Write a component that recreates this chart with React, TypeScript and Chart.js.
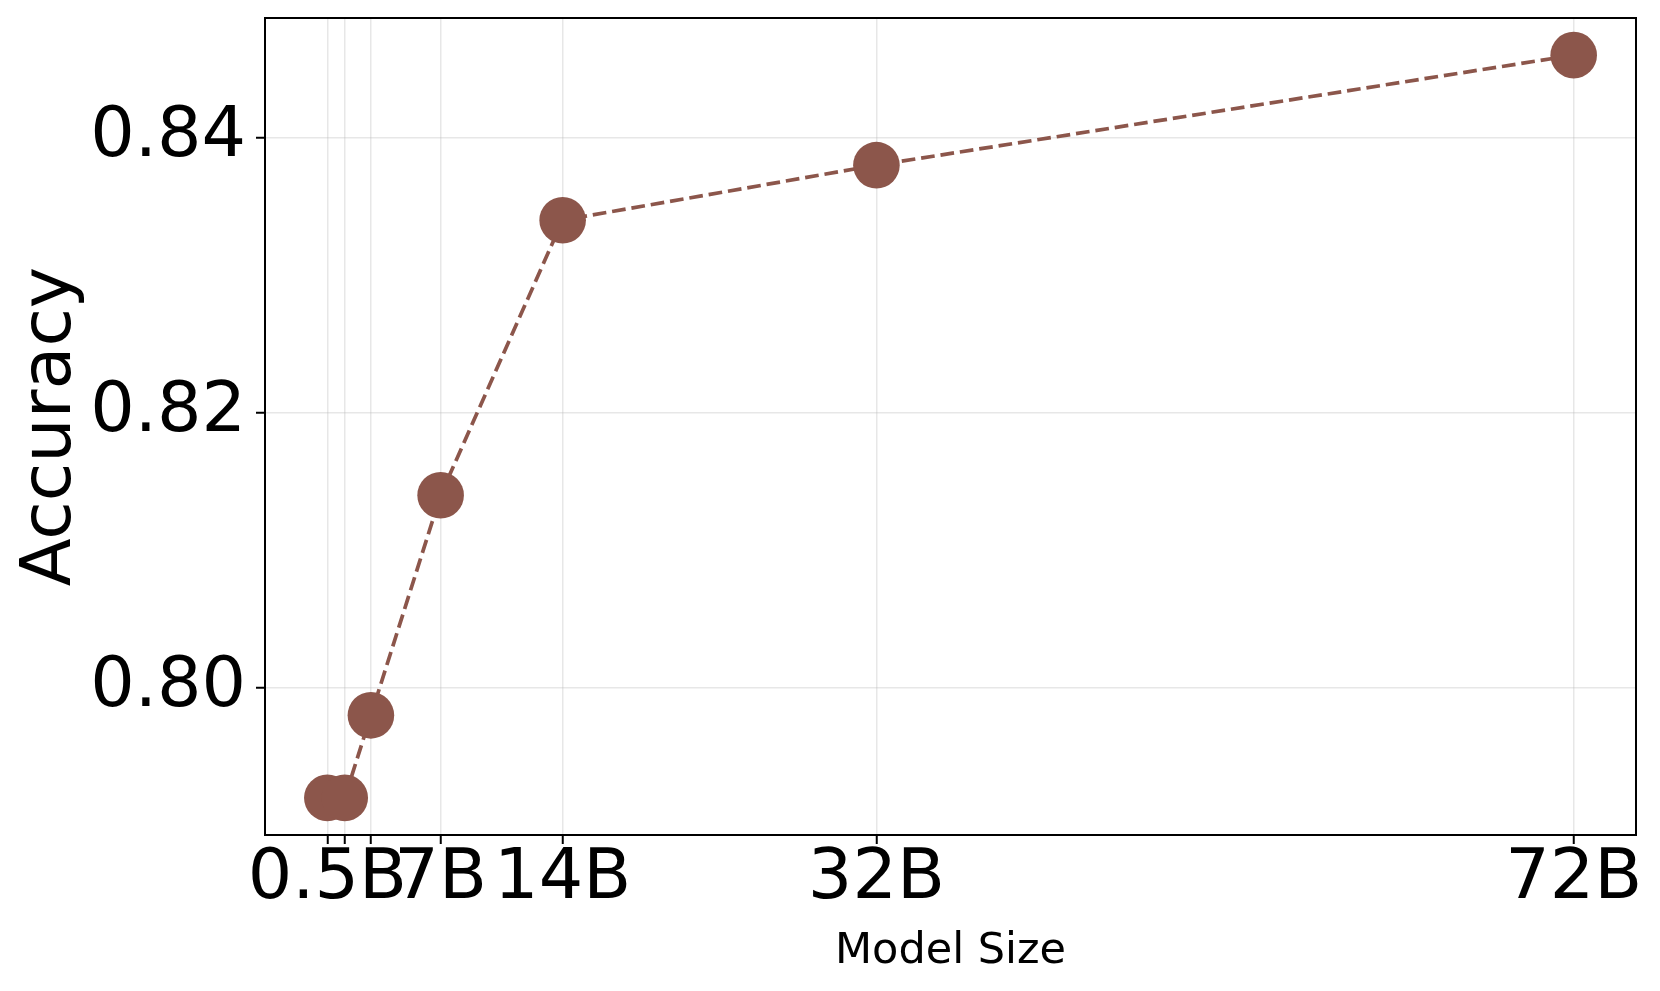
import React, { useEffect, useRef } from "react";
import { Chart, registerables } from "chart.js";

Chart.register(...registerables);

// ---- data ----
const modelSizes = [0.5, 1.5, 3, 7, 14, 32, 72];
const accuracy = [0.792, 0.792, 0.798, 0.814, 0.834, 0.838, 0.846];
const xTickValues = [0.5, 1.5, 3, 7, 14, 32, 72];
const xTickLabels = ["0.5B", "", "", "7B", "14B", "32B", "72B"];
const yTickValues = [0.8, 0.82, 0.84];
const xAxisTitle = "Model Size";
const yAxisTitle = "Accuracy";

const BROWN = "#8c564b";
const FONT = "'DejaVu Sans', sans-serif";

function marginRange(vals: number[], frac = 0.05) {
  const lo = Math.min(...vals);
  const hi = Math.max(...vals);
  const pad = (hi - lo) * frac;
  return { min: lo - pad, max: hi + pad };
}

const framePlugin = {
  id: "frame",
  afterDraw(chart: any) {
    const { ctx, chartArea } = chart;
    ctx.save();
    ctx.strokeStyle = "#000";
    ctx.lineWidth = 2;
    ctx.strokeRect(
      chartArea.left,
      chartArea.top,
      chartArea.right - chartArea.left,
      chartArea.bottom - chartArea.top
    );
    ctx.restore();
  },
};

export default function App() {
  const ref = useRef<HTMLCanvasElement | null>(null);

  useEffect(() => {
    if (!ref.current) return;
    const xr = marginRange(modelSizes);
    const yr = marginRange(accuracy);
    const chart = new Chart(ref.current, {
      type: "line",
      data: {
        datasets: [
          {
            data: modelSizes.map((x, i) => ({ x, y: accuracy[i] })),
            borderColor: BROWN,
            backgroundColor: BROWN,
            borderWidth: 3.7,
            borderDash: [13.7, 5.9],
            tension: 0,
            fill: false,
            pointRadius: 23.3,
            pointHoverRadius: 23.3,
            pointBackgroundColor: BROWN,
            pointBorderWidth: 0,
          },
        ],
      },
      options: {
        responsive: false,
        animation: false,
        events: [],
        layout: { autoPadding: false, padding: { left: 0, right: 24, top: 18, bottom: 0 } },
        plugins: {
          legend: { display: false },
          tooltip: { enabled: false },
        },
        scales: {
          x: {
            type: "linear",
            min: xr.min,
            max: xr.max,
            afterBuildTicks: (scale: any) => {
              scale.ticks = xTickValues.map((v) => ({ value: v }));
            },
            afterFit: (scale: any) => {
              scale.height = 991 - 835;
              scale.paddingLeft = 0;
              scale.paddingRight = 0;
            },
            ticks: {
              autoSkip: false,
              maxRotation: 0,
              minRotation: 0,
              padding: 1,
              color: "#000",
              font: { family: FONT, size: 70, lineHeight: 1 },
              callback: (v: any) => {
                const i = xTickValues.indexOf(Number(v));
                return i >= 0 ? xTickLabels[i] : "";
              },
            },
            grid: {
              color: "rgba(176,176,176,0.3)",
              lineWidth: 1.5,
              tickColor: "#000",
              tickWidth: 2,
              tickLength: 9,
            },
            border: { display: false },
            title: {
              display: true,
              text: xAxisTitle,
              color: "#000",
              font: { family: FONT, size: 43, lineHeight: 1.2 },
              padding: { top: 0, bottom: 13 },
            },
          },
          y: {
            type: "linear",
            min: yr.min,
            max: yr.max,
            afterBuildTicks: (scale: any) => {
              scale.ticks = yTickValues.map((v) => ({ value: v }));
            },
            afterFit: (scale: any) => {
              scale.width = 265;
              scale.paddingTop = 0;
              scale.paddingBottom = 0;
            },
            ticks: {
              padding: 10,
              color: "#000",
              font: { family: FONT, size: 70, lineHeight: 1 },
              callback: (v: any) => Number(v).toFixed(2),
            },
            grid: {
              color: "rgba(176,176,176,0.3)",
              lineWidth: 1.5,
              tickColor: "#000",
              tickWidth: 2,
              tickLength: 9,
            },
            border: { display: false },
            title: {
              display: true,
              text: yAxisTitle,
              color: "#000",
              font: { family: FONT, size: 70, lineHeight: 1.2 },
              padding: { top: 10, bottom: 0 },
            },
          },
        },
      },
      plugins: [framePlugin],
    } as any);
    return () => chart.destroy();
  }, []);

  return (
    <div style={{ position: "absolute", left: 0, top: 0, width: 1660, height: 991, background: "#fff" }}>
      <canvas ref={ref} width={1660} height={991} style={{ display: "block", width: 1660, height: 991 }} />
    </div>
  );
}
